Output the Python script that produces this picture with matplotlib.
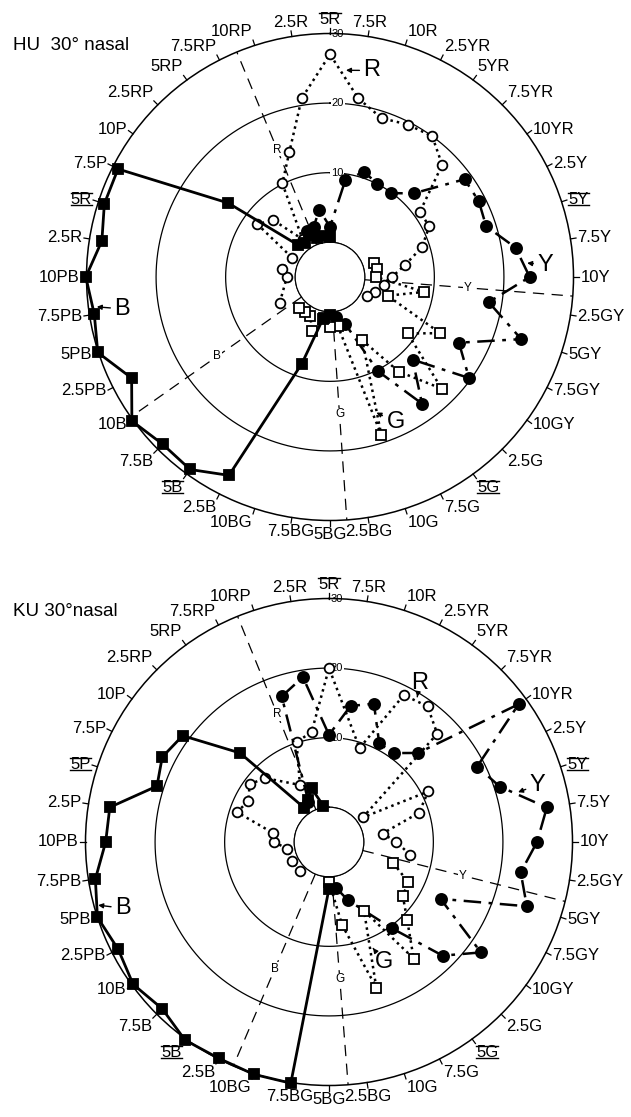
import numpy as np
import matplotlib
matplotlib.use("Agg")
import matplotlib.pyplot as plt
from matplotlib.lines import Line2D

plt.rcParams["font.family"] = ["Liberation Sans", "DejaVu Sans"]

# Munsell hue circle, 40 steps of 9 deg, clockwise from 5R at the top
HUES = ["5R", "7.5R", "10R", "2.5YR", "5YR", "7.5YR", "10YR", "2.5Y", "5Y", "7.5Y",
        "10Y", "2.5GY", "5GY", "7.5GY", "10GY", "2.5G", "5G", "7.5G", "10G", "2.5BG",
        "5BG", "7.5BG", "10BG", "2.5B", "5B", "7.5B", "10B", "2.5PB", "5PB", "7.5PB",
        "10PB", "2.5P", "5P", "7.5P", "10P", "2.5RP", "5RP", "7.5RP", "10RP", "2.5R"]
HUES_HU = HUES[:31] + ["2.5R", "5R"] + HUES[33:]
MARKED = [0, 8, 16, 24, 32]

# hue steps (negative = counter-clockwise from 5R) and response values
hu_r_steps = [-13, -10, -9, -7, -6, -5, -4, -3, -2, -1, 0, 1, 2, 3, 4, 5, 6, 7, 8, 9, 10, 11, 12, 13]
hu_r_vals = [3.1, 1.2, 2.0, 1.1, 7.9, 6.6, 1.7, 10.1, 13.9, 21, 27, 21, 19, 19.6, 20, 17.8,
             11, 11, 8.9, 5.9, 3.9, 2.8, 1.8, 0.9]
hu_y_steps = [-3, -2, -1, 0, 1, 2, 3, 4, 5, 6, 7, 8, 9, 10, 11, 12, 13, 14, 15, 16, 17, 18, 19]
hu_y_vals = [2.4, 2.6, 4.8, 2.2, 9.1, 10.9, 10, 9.9, 12, 18.9, 19, 18.6, 22, 23.7, 18.1,
             23.9, 15.8, 19.7, 11.8, 17.5, 10.2, 2.1, 0.8]
hu_g_steps = [8, 9, 10, 11, 12, 13, 14, 15, 16, 17, 18, 19, 20, 21, 22, 23, 24, 25]
hu_g_vals = [1.6, 1.9, 1.6, 8.7, 3.7, 12.8, 8.8, 17.7, 11.8, 5.2, 18.9, 2.1, 2.2, 1.1,
             3.2, 1.3, 1.2, 1.2]
hu_b_steps = list(range(-20, 1))
hu_b_vals = [0.5, 0.9, 8.1, 27, 29.2, 29, 30.2, 27, 30.1, 29.3, 30.1, 28.2, 29.1, 29.2,
             13.1, 1.5, 1.0, 1.8, 0.9, 1.0, 0.7]

ku_r_steps = [-15, -13, -11, -10, -9, -8, -7, -6, -5, -3, -2, -1, 0, 2, 3, 4, 5, 6, 7, 8, 9, 10, 11]
ku_r_vals = [0.9, 1.0, 1.1, 2.9, 3.1, 8.9, 8.0, 9.1, 8.0, 4.2, 10.1, 11, 20, 9.2, 18.7,
             19.1, 17, 1.0, 11, 8.6, 2.8, 4.7, 6.8]
ku_y_steps = [-3, -2, -1, 0, 1, 2, 3, 4, 5, 6, 7, 8, 9, 10, 11, 12, 13, 14, 15, 16, 18, 19]
ku_y_vals = [1.5, 17, 19, 10.4, 14.8, 15.9, 10.9, 10.8, 13.1, 28.7, 18.9, 20.8, 26.7,
             24.9, 22.9, 24.9, 13, 22, 18.1, 10.3, 3.8, 1.7]
ku_g_steps = [12, 13, 14, 15, 16, 17, 18, 19, 20]
ku_g_vals = [4.7, 7.8, 8.1, 10.9, 15.7, 6.1, 17, 7.1, 0.7]
ku_b_steps = list(range(-20, 0))
ku_b_vals = [1.7, 30.1, 30.1, 29.9, 30.2, 28.9, 29.8, 29, 30, 29, 27.1, 26.9, 21, 21.9,
             21, 13.1, 1.1, 1.8, 3.1, 0.3]

# dominant-hue dashed lines (hue step of each line)
hu_dom = {"R": -2.5, "Y": 10.5, "G": 19.56, "B": -13.9}
ku_dom = {"R": -2.45, "Y": 11.57, "G": 19.5, "B": -17.43}

# series tags: letter -> (text step, text r, arrow step, arrow r)
hu_tags = {"R": (1.28, 25.3, 0.49, 24.8), "Y": (9.64, 26.0, 9.55, 23.4),
           "G": (17.3, 17.9, 17.9, 15.6), "B": (29.03, 25.2, 29.19, 28.8)}
ku_tags = {"R": (3.3, 21.3, 3.48, 19.4), "Y": (8.3, 26.1, 8.36, 23.1),
           "G": (17.27, 14.0, 17.5, 11.5), "B": (28.02, 26.1, 28.3, 29.4)}


def th(step):
    return np.deg2rad(np.asarray(step, dtype=float) * 9.0)


def draw_panel(ax, labels, series, dom, tags):
    ax.set_theta_zero_location("N")
    ax.set_theta_direction(-1)
    ax.set_ylim(0, 30)
    ax.set_rorigin(-5)
    ax.set_xticks([])
    ax.set_yticks([])
    ax.grid(False)
    ax.spines["polar"].set_linewidth(1.1)

    full = np.linspace(0, 2 * np.pi, 721)
    for r in (0, 10, 20):
        ax.plot(full, np.full_like(full, r), color="black", lw=0.9, zorder=1)

    for r, deg in ((30, 1.9), (20, 2.6), (10, 3.9)):
        ax.text(np.deg2rad(deg), r, str(r), fontsize=8, ha="center", va="center",
                bbox=dict(fc="white", ec="none", pad=0.3), zorder=2)

    marked = []
    for s, lab in enumerate(labels):
        t = th(s)
        ax.plot([t, t], [30, 30.8], color="black", lw=0.9, clip_on=False)
        sn, cs = np.sin(t), np.cos(t)
        ha = "left" if sn > 0.25 else ("right" if sn < -0.25 else "center")
        va = "bottom" if cs > 0.6 else ("top" if cs < -0.6 else "center")
        txt = ax.text(t, 31.0, lab, fontsize=12, ha=ha, va=va)
        if s in MARKED:
            marked.append((txt, s != 0))

    for key, step in dom.items():
        ax.plot([th(step)] * 2, [0, 30], color="black", lw=0.9,
                dashes=(9, 6), zorder=1)
        ax.text(th(step), 14.8, key, fontsize=8.5, ha="center", va="center",
                bbox=dict(fc="white", ec="none", pad=0.5), zorder=2)

    styles = {
        "R": dict(ls=(0, (1, 1.6)), lw=1.8, marker="o", ms=7, mfc="white"),
        "Y": dict(ls=(0, (7, 3, 1.5, 3)), lw=1.8, marker="o", ms=8, mfc="black"),
        "G": dict(ls=(0, (1, 1.6)), lw=1.8, marker="s", ms=6.5, mfc="white"),
        "B": dict(ls="-", lw=2.0, marker="s", ms=7, mfc="black"),
    }
    for key, (steps, vals) in series.items():
        ax.plot(th(steps), vals, color="black", mec="black", mew=1.3,
                clip_on=False, zorder=3, **styles[key])

    for key, (ts, tr, hs, hr) in tags.items():
        ax.annotate(key, xy=(th(hs), hr), xytext=(th(ts), tr), fontsize=17,
                    ha="center", va="center", annotation_clip=False,
                    arrowprops=dict(arrowstyle="-|>", color="black", lw=1.0,
                                    mutation_scale=7, shrinkA=1, shrinkB=0))
    return marked


fig = plt.figure(figsize=(6.31, 11.17), dpi=100)
W, H = 631.0, 1117.0
ax_hu = fig.add_axes([86.5 / W, 596.5 / H, 487 / W, 487 / H], projection="polar")
ax_ku = fig.add_axes([85.5 / W, 31.5 / H, 487 / W, 487 / H], projection="polar")

marked = draw_panel(ax_hu, HUES_HU,
                    {"R": (hu_r_steps, hu_r_vals), "Y": (hu_y_steps, hu_y_vals),
                     "G": (hu_g_steps, hu_g_vals), "B": (hu_b_steps, hu_b_vals)},
                    hu_dom, hu_tags)
marked += draw_panel(ax_ku, HUES,
                     {"R": (ku_r_steps, ku_r_vals), "Y": (ku_y_steps, ku_y_vals),
                      "G": (ku_g_steps, ku_g_vals), "B": (ku_b_steps, ku_b_vals)},
                     ku_dom, ku_tags)

fig.text(13 / W, 1 - 45 / H, "HU  30° nasal", fontsize=13.5, va="center")
fig.text(13 / W, 1 - 611 / H, "KU 30°nasal", fontsize=13.5, va="center")

# over/underline the principal hues
fig.canvas.draw()
renderer = fig.canvas.get_renderer()
inv = fig.transFigure.inverted()
for txt, under in marked:
    bb = txt.get_window_extent(renderer)
    (x0, y0), (x1, y1) = inv.transform([(bb.x0, bb.y0 + 2), (bb.x1, bb.y1 - 1)])
    fig.add_artist(Line2D([x0, x1], [y1, y1], color="black", lw=1.0,
                          transform=fig.transFigure))
    if under:
        fig.add_artist(Line2D([x0, x1], [y0, y0], color="black", lw=1.0,
                              transform=fig.transFigure))

fig.savefig("out.png", dpi=100)
